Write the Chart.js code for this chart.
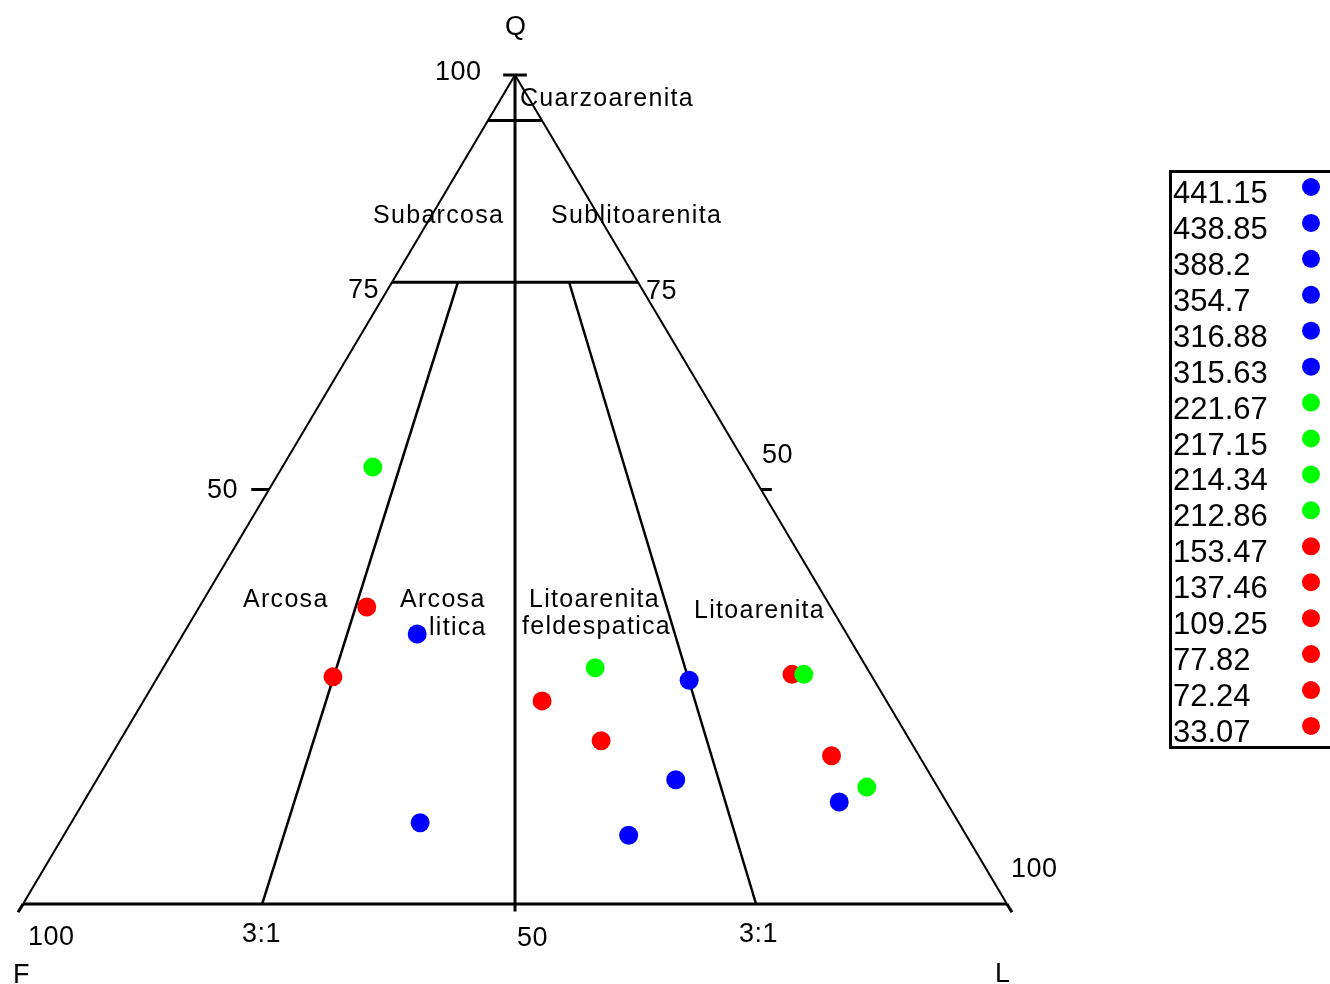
<!DOCTYPE html>
<html>
<head>
<meta charset="utf-8">
<script src="https://cdn.jsdelivr.net/npm/chart.js@4.4.1/dist/chart.umd.min.js"></script>
<style>
  body { margin: 0; background: #fff; }
  #wrap { width: 1330px; height: 984px; position: relative; }
</style>
</head>
<body>
<div id="wrap"><canvas id="qfl"></canvas></div>
<script>
// muestras (profundidad) y composicion Q-F-L en %
const depths = ['441.15', '438.85', '388.2', '354.7', '316.88', '315.63', '221.67', '217.15',
    '214.34', '212.86', '153.47', '137.46', '109.25', '77.82', '72.24', '33.07'];
const sampleColors = ['#0000ff', '#0000ff', '#0000ff', '#0000ff', '#0000ff', '#0000ff',
    '#00ff00', '#00ff00', '#00ff00', '#00ff00',
    '#ff0000', '#ff0000', '#ff0000', '#ff0000', '#ff0000', '#ff0000'];
const qPct = [32.6, 9.8, 27.0, 15.0, 8.3, 12.3, 52.7, 28.5, 27.7, 14.1, 35.8, 27.4, 24.5, 19.7, 27.7, 17.9];
const fPct = [43.7, 54.8, 18.8, 26.2, 34.3, 10.9, 38.1, 27.6, 6.8, 7.2, 47.1, 54.8, 35.0, 31.4, 8.0, 8.9];
const lPct = [23.8, 35.5, 54.2, 58.9, 57.4, 76.8, 9.2, 43.9, 65.5, 78.7, 17.0, 17.8, 40.5, 48.9, 64.3, 73.3];

// limites de campos (Q, F, L) en el diagrama
const fieldLines = [
    [[100, 0, 0], [0, 100, 0]],
    [[100, 0, 0], [0, 0, 100]],
    [[0, 100, 0], [0, 0, 100]],
    [[100, 0, 0], [0, 50, 50]],
    [[94.5, 5.5, 0], [94.5, 0, 5.5]],
    [[75, 25, 0], [75, 0, 25]],
    [[75, 18.3, 6.7], [0, 75.7, 24.3]],
    [[75, 7, 18], [0, 25.5, 74.5]]
];
const tickLines = [
    [[100, 1.2, -1.2], [100, -1.2, 1.2]],
    [[50, 50, 0], [50, 51.8, -1.8]],
    [[50, 0, 50], [50, -1.1, 51.1]],
    [[0, 50, 50], [-0.9, 50.45, 50.45]],
    [[0, 100, 0], [-1, 101, 0]],
    [[0, 0, 100], [-1, 0, 101]]
];

function toXY(q, f, l) {
    const s = q + f + l;
    q = q / s * 100; l = l / s * 100;
    return { x: l + q / 2, y: q };
}

function pointsFor(color) {
    const pts = [];
    for (let i = 0; i < depths.length; i++) {
        if (sampleColors[i] === color) pts.push(toXY(qPct[i], fPct[i], lPct[i]));
    }
    return pts;
}

const datasets = [];
['#00ff00', '#0000ff', '#ff0000'].forEach(c => {
    datasets.push({
        data: pointsFor(c),
        backgroundColor: c,
        borderWidth: 0,
        pointRadius: 9.5,
        pointHoverRadius: 9.5
    });
});
fieldLines.forEach((seg, i) => {
    datasets.push({
        data: seg.map(p => toXY(p[0], p[1], p[2])),
        showLine: true,
        borderColor: '#000',
        borderWidth: i < 2 ? 2 : (i > 5 ? 2.5 : 3),
        pointRadius: 0
    });
});
tickLines.forEach(seg => {
    datasets.push({
        data: seg.map(p => [p[0], p[1], p[2]]).map(p => {
            const s = p[0] + p[1] + p[2];
            return { x: p[2] / s * 100 + p[0] / s * 50, y: p[0] / s * 100 };
        }),
        showLine: true,
        borderColor: '#000',
        borderWidth: 3,
        pointRadius: 0
    });
});

const labels = [
    ['Q', 505, 35, 'num'], ['100', 435, 80, 'num'], ['Cuarzoarenita', 520, 106, 'lab'],
    ['Subarcosa', 373, 223, 'lab'], ['Sublitoarenita', 551, 223, 'lab'],
    ['75', 348, 298, 'num'], ['75', 646, 299, 'num'],
    ['50', 207, 498, 'num'], ['50', 762, 463, 'num'],
    ['Arcosa', 243, 607, 'lab'], ['Arcosa', 400, 607, 'lab'], ['litica', 429, 635, 'lab'],
    ['Litoarenita', 529, 607, 'lab'], ['feldespatica', 522, 634, 'lab'],
    ['Litoarenita', 694, 618, 'lab'],
    ['100', 1011, 877, 'num'], ['100', 28, 945, 'num'], ['3:1', 242, 942, 'num'],
    ['50', 517, 946, 'num'], ['3:1', 739, 942, 'num'],
    ['F', 13, 983, 'num'], ['L', 995, 982, 'num']
];

const textPlugin = {
    id: 'qflText',
    afterDraw(chart) {
        const ctx = chart.ctx;
        ctx.save();
        ctx.fillStyle = '#000';
        ctx.textBaseline = 'alphabetic';
        ctx.textAlign = 'left';
        labels.forEach(([t, x, y, kind]) => {
            if (kind === 'lab') {
                ctx.font = '25px "Liberation Sans", Arial, sans-serif';
                ctx.letterSpacing = '1.3px';
            } else {
                ctx.font = '27px "Liberation Sans", Arial, sans-serif';
                ctx.letterSpacing = '0.5px';
            }
            ctx.fillText(t, x, y);
        });
        // leyenda
        ctx.letterSpacing = '0px';
        ctx.strokeStyle = '#000';
        ctx.lineWidth = 3;
        ctx.strokeRect(1170.5, 171.5, 200, 576);
        ctx.font = '31px "Liberation Sans", Arial, sans-serif';
        depths.forEach((d, i) => {
            const cy = 187 + i * 35.93;
            ctx.fillStyle = '#000';
            ctx.fillText(d, 1173, cy + 16);
            ctx.fillStyle = sampleColors[i];
            ctx.beginPath();
            ctx.arc(1311, cy, 9, 0, Math.PI * 2);
            ctx.fill();
        });
        ctx.restore();
    }
};

new Chart(document.getElementById('qfl'), {
    type: 'scatter',
    data: { datasets: datasets },
    options: {
        responsive: true,
        maintainAspectRatio: false,
        animation: false,
        layout: { padding: 0, autoPadding: false },
        plugins: {
            legend: { display: false },
            tooltip: { enabled: false }
        },
        scales: {
            x: { type: 'linear', min: -2.3374, max: 132.825, display: false },
            y: { type: 'linear', min: -9.650, max: 109.047, display: false }
        }
    },
    plugins: [textPlugin]
});
</script>
</body>
</html>
